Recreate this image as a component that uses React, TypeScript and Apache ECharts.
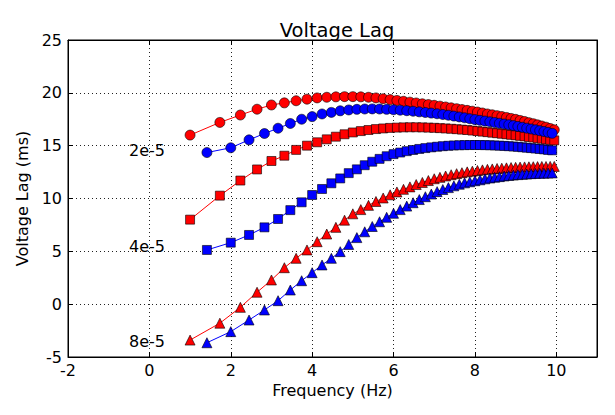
import React, { useEffect, useRef } from "react";
import * as echarts from "echarts";

// Frequencies (Hz) of the red and blue sweeps
const redFreq = [
  1.0, 1.732, 2.236, 2.646, 3.0, 3.317, 3.606, 3.873, 4.123, 4.359, 4.583, 4.796, 5.0, 5.196, 5.385, 5.568,
  5.745, 5.916, 6.083, 6.245, 6.403, 6.557, 6.708, 6.856, 7.0, 7.141, 7.28, 7.416, 7.55, 7.681, 7.81, 7.937,
  8.062, 8.185, 8.307, 8.426, 8.544, 8.66, 8.775, 8.888, 9.0, 9.11, 9.22, 9.327, 9.434, 9.539, 9.644, 9.747,
  9.849, 9.95,
];
const blueFreq = [
  1.414, 2.0, 2.449, 2.828, 3.162, 3.464, 3.742, 4.0, 4.243, 4.472, 4.69, 4.899, 5.099, 5.292, 5.477, 5.657,
  5.831, 6.0, 6.164, 6.325, 6.481, 6.633, 6.782, 6.928, 7.071, 7.211, 7.348, 7.483, 7.616, 7.746, 7.874, 8.0,
  8.124, 8.246, 8.367, 8.485, 8.602, 8.718, 8.832, 8.944, 9.055, 9.165, 9.274, 9.381, 9.487, 9.592, 9.695, 9.798,
  9.899,
];

// Voltage lag (ms), tau = 2e-5
const red2e5 = [
  16.0, 17.2, 17.9, 18.45, 18.85, 19.05, 19.25, 19.4, 19.52, 19.58, 19.62, 19.64, 19.64, 19.62, 19.58, 19.52,
  19.44, 19.36, 19.28, 19.2, 19.12, 19.04, 18.96, 18.89, 18.82, 18.74, 18.66, 18.58, 18.5, 18.42, 18.34, 18.26,
  18.18, 18.09, 18.0, 17.92, 17.84, 17.76, 17.67, 17.58, 17.49, 17.39, 17.29, 17.18, 17.08, 16.97, 16.86, 16.75,
  16.63, 16.5,
];
const blue2e5 = [
  14.35, 14.8, 15.55, 16.15, 16.65, 17.1, 17.5, 17.75, 18.0, 18.15, 18.3, 18.38, 18.44, 18.47, 18.48, 18.47,
  18.44, 18.4, 18.36, 18.31, 18.26, 18.2, 18.14, 18.08, 18.02, 17.95, 17.88, 17.8, 17.72, 17.64, 17.55, 17.47,
  17.4, 17.33, 17.26, 17.19, 17.12, 17.05, 16.98, 16.9, 16.82, 16.74, 16.66, 16.58, 16.5, 16.42, 16.34, 16.26,
  16.17,
];

// tau = 4e-5
const red4e5 = [
  8.0, 10.27, 11.7, 12.75, 13.55, 14.05, 14.6, 15.0, 15.32, 15.6, 15.85, 16.08, 16.25, 16.38, 16.48, 16.57,
  16.63, 16.68, 16.71, 16.73, 16.74, 16.74, 16.73, 16.71, 16.69, 16.66, 16.63, 16.6, 16.56, 16.52, 16.48, 16.43,
  16.38, 16.33, 16.28, 16.23, 16.18, 16.13, 16.08, 16.03, 15.98, 15.93, 15.88, 15.82, 15.77, 15.71, 15.66, 15.6,
  15.55, 15.5,
];
const blue4e5 = [
  5.13, 5.82, 6.55, 7.27, 8.06, 8.9, 9.64, 10.33, 10.9, 11.44, 11.9, 12.4, 12.76, 13.15, 13.48, 13.75,
  14.0, 14.2, 14.35, 14.48, 14.59, 14.69, 14.77, 14.84, 14.9, 14.95, 14.99, 15.02, 15.04, 15.05, 15.06, 15.06,
  15.06, 15.05, 15.04, 15.02, 15.0, 14.98, 14.95, 14.92, 14.89, 14.85, 14.81, 14.77, 14.73, 14.69, 14.65, 14.6,
  14.56,
];

// tau = 8e-5
const red8e5 = [
  -3.4, -1.8, -0.3, 1.13, 2.29, 3.45, 4.34, 5.13, 5.91, 6.64, 7.27, 7.95, 8.55, 8.95, 9.35, 9.72,
  10.05, 10.35, 10.62, 10.87, 11.1, 11.32, 11.52, 11.7, 11.87, 12.0, 12.13, 12.25, 12.35, 12.44, 12.52, 12.59,
  12.65, 12.71, 12.76, 12.8, 12.84, 12.87, 12.9, 12.93, 12.95, 12.97, 12.99, 13.0, 13.01, 13.02, 13.03, 13.03,
  13.04, 13.04,
];
const blue8e5 = [
  -3.65, -2.6, -1.5, -0.55, 0.33, 1.34, 2.22, 2.98, 3.71, 4.34, 4.97, 5.65, 6.3, 6.85, 7.35, 7.8,
  8.22, 8.6, 8.95, 9.28, 9.6, 9.9, 10.17, 10.42, 10.65, 10.85, 11.03, 11.2, 11.35, 11.48, 11.58, 11.68,
  11.77, 11.86, 11.94, 12.01, 12.07, 12.13, 12.18, 12.22, 12.26, 12.29, 12.32, 12.35, 12.37, 12.39, 12.4, 12.41,
  12.42,
];

const annotationText = ["2e-5", "4e-5", "8e-5"];
const annotationX = [-0.5, -0.5, -0.5];
const annotationY = [14.5, 5.5, -3.5];

const FONT = "DejaVu Sans";

export default function App() {
  const ref = useRef<HTMLDivElement>(null);

  useEffect(() => {
    if (!ref.current) return;
    const chart = echarts.init(ref.current, null, { renderer: "svg" });

    const mk = (name: string, xs: number[], ys: number[], color: string, symbol: string, size: number, z: number) => ({
      type: "line",
      name,
      xAxisIndex: 0,
      yAxisIndex: 0,
      data: xs.map((x, i) => [x, ys[i]]),
      symbol,
      symbolSize: size,
      showSymbol: true,
      showAllSymbol: true,
      z,
      lineStyle: { color, width: 1 },
      itemStyle: { color, borderColor: "#000", borderWidth: 0.6 },
      emphasis: { disabled: true },
    });

    const gridLine = { show: true, lineStyle: { color: "#222", type: [1, 3] as any, width: 1 } };
    const tick = { show: true, inside: true, length: 5, lineStyle: { color: "#000" } };
    const axisLine = { show: true, onZero: false, lineStyle: { color: "#000" } };

    chart.setOption({
      animation: false,
      backgroundColor: "#fff",
      title: {
        text: "Voltage Lag",
        left: 332,
        top: 15,
        textAlign: "center",
        textStyle: { fontFamily: FONT, fontSize: 19.5, fontWeight: "normal", color: "#000" },
      },
      grid: { left: 68, top: 40, right: 18, bottom: 58, show: true, borderColor: "#000", borderWidth: 1, backgroundColor: "transparent" },
      xAxis: [
        {
          type: "value",
          min: -2,
          max: 11,
          interval: 2,
          name: "Frequency (Hz)",
          nameLocation: "middle",
          nameGap: 24,
          nameTextStyle: { fontFamily: FONT, fontSize: 16, color: "#000" },
          axisLine,
          axisTick: tick,
          axisLabel: { fontFamily: FONT, fontSize: 16, color: "#000", margin: 5, showMaxLabel: false },
          splitLine: gridLine,
        },
        {
          type: "value",
          position: "top",
          min: -2,
          max: 11,
          interval: 2,
          axisLine,
          axisTick: tick,
          axisLabel: { show: false },
          splitLine: { show: false },
        },
      ],
      yAxis: [
        {
          type: "value",
          min: -5,
          max: 25,
          interval: 5,
          name: "Voltage Lag (ms)",
          nameLocation: "middle",
          nameGap: 36,
          nameTextStyle: { fontFamily: FONT, fontSize: 16, color: "#000" },
          axisLine,
          axisTick: tick,
          axisLabel: { fontFamily: FONT, fontSize: 16, color: "#000", margin: 6 },
          splitLine: gridLine,
        },
        {
          type: "value",
          position: "right",
          min: -5,
          max: 25,
          interval: 5,
          axisLine,
          axisTick: tick,
          axisLabel: { show: false },
          splitLine: { show: false },
        },
      ],
      series: [
        mk("red 2e-5", redFreq, red2e5, "#ff0000", "circle", 10, 2),
        mk("blue 2e-5", blueFreq, blue2e5, "#0000ff", "circle", 10, 3),
        mk("red 4e-5", redFreq, red4e5, "#ff0000", "rect", 9, 2),
        mk("blue 4e-5", blueFreq, blue4e5, "#0000ff", "rect", 9, 3),
        mk("red 8e-5", redFreq, red8e5, "#ff0000", "triangle", 10, 2),
        mk("blue 8e-5", blueFreq, blue8e5, "#0000ff", "triangle", 10, 3),
      ],
    });

    const graphics = annotationText.map((t, i) => {
      const p = chart.convertToPixel({ xAxisIndex: 0, yAxisIndex: 0 }, [annotationX[i], annotationY[i]]) as number[];
      return {
        type: "text",
        x: p[0],
        y: p[1],
        z: 10,
        style: {
          text: t,
          fontFamily: FONT,
          fontSize: 16,
          fill: "#000",
          textAlign: "left",
          textVerticalAlign: "middle",
        },
      };
    });
    chart.setOption({ graphic: graphics });

    return () => chart.dispose();
  }, []);

  return <div ref={ref} style={{ position: "fixed", left: 0, top: 0, width: 615, height: 415, background: "#fff" }} />;
}
